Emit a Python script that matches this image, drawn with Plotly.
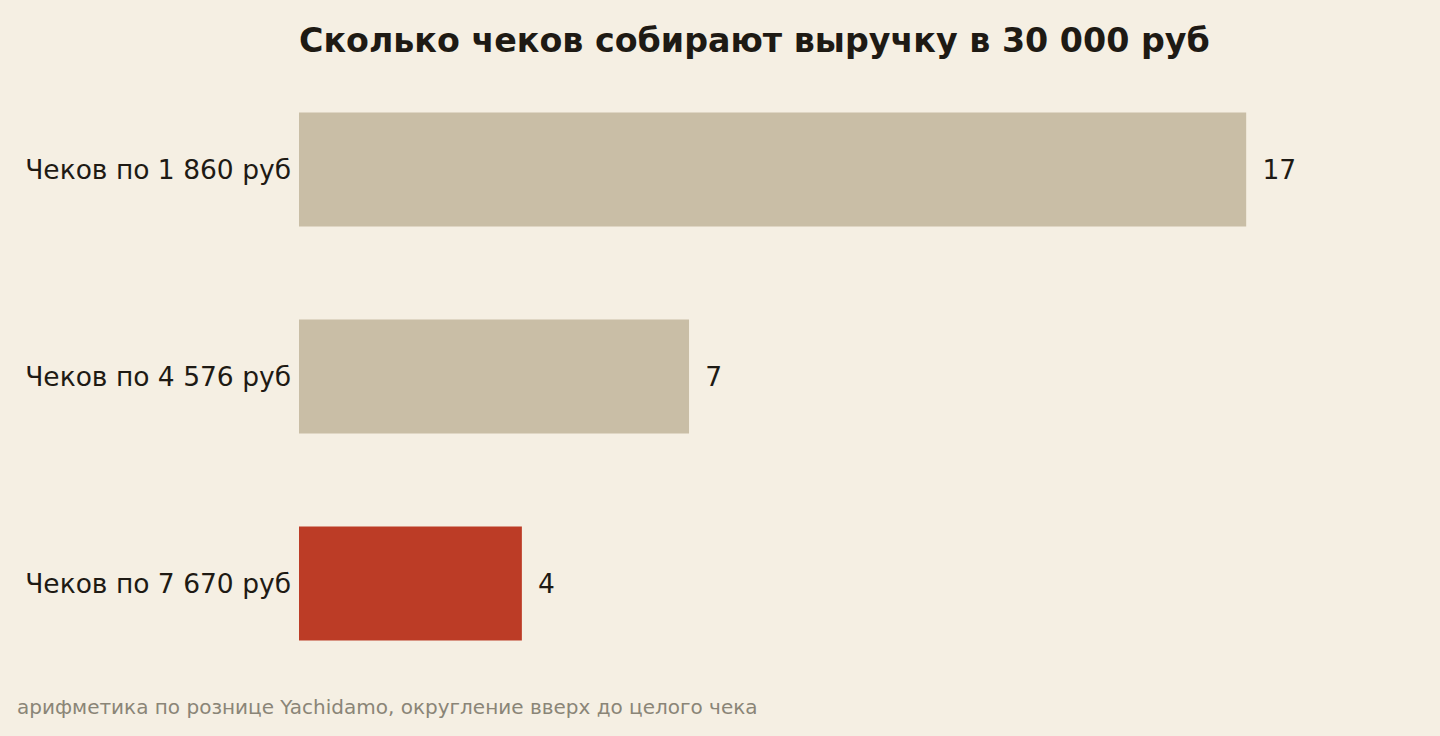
import plotly.graph_objects as go

# данные
categories = ["Чеков по 1 860 руб", "Чеков по 4 576 руб", "Чеков по 7 670 руб"]
checks = [17, 7, 4]
bar_colors = ["#C9BEA6", "#C9BEA6", "#BC3C26"]

title_text = "Сколько чеков собирают выручку в 30 000 руб"
note_text = "арифметика по рознице Yachidamo, округление вверх до целого чека"

fig = go.Figure(go.Bar(
    x=checks,
    y=categories,
    orientation="h",
    marker=dict(color=bar_colors, line_width=0),
    width=0.55,
    text=checks,
    texttemplate="\u2002%{text}",
    textposition="outside",
    textfont=dict(size=26.5, color="#1E1A14"),
    cliponaxis=False,
    hoverinfo="skip",
))

fig.update_layout(
    width=1440, height=736,
    paper_bgcolor="#F5EFE3",
    plot_bgcolor="#F5EFE3",
    font=dict(family="DejaVu Sans", color="#1E1A14"),
    margin=dict(l=299, r=30, t=66, b=49),
    title=dict(text="<b>" + title_text + "</b>", font=dict(size=33.3, color="#1E1A14"),
               x=0, xref="paper", xanchor="left",
               y=1 - 40 / 736, yref="container", yanchor="middle"),
    showlegend=False,
)
fig.update_xaxes(range=[0, 19.94], visible=False)
fig.update_yaxes(autorange="reversed", showgrid=False, zeroline=False, showline=False,
                 ticks="", tickfont=dict(size=26.5, color="#1E1A14"), ticklabelstandoff=7)

fig.add_annotation(text=note_text, xref="paper", yref="paper",
                   x=(15 - 299) / 1111, y=-20 / 621, xanchor="left", yanchor="middle",
                   showarrow=False, font=dict(size=20, color="#8A8577"))

# без отступа страницы, чтобы фон шёл до краёв
fig.write_html("out.html", config={"displayModeBar": False},
               post_script="document.body.style.margin='0';")
